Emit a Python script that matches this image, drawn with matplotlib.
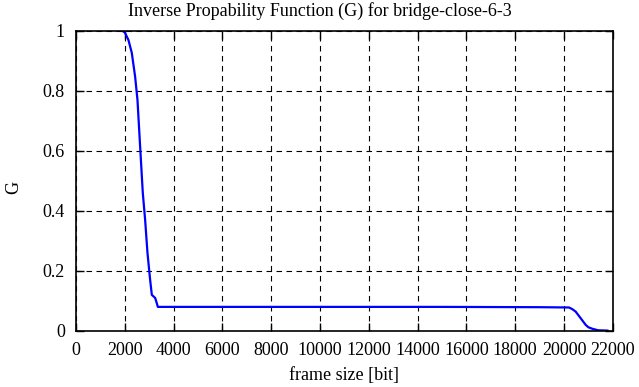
import matplotlib
matplotlib.use('Agg')
import matplotlib.pyplot as plt

plt.rcParams['font.family'] = ['Liberation Serif', 'DejaVu Serif']

# frame size [bit] and G values
frame_size = [1900, 2000, 2147, 2285, 2421, 2518, 2627, 2736, 2832, 2928, 3037, 3106,
              3242, 3300, 3353, 5000, 10000, 15000, 19000, 20207, 20350, 20480,
              20685, 20890, 21000, 21165, 21400, 21780]
G = [1.0, 0.995, 0.97, 0.927, 0.848, 0.77, 0.614, 0.46, 0.37, 0.26, 0.17, 0.12,
     0.11, 0.095, 0.08, 0.08, 0.08, 0.08, 0.079, 0.078, 0.072, 0.064,
     0.042, 0.02, 0.012, 0.007, 0.002, 0.001]

xticks = list(range(0, 22001, 2000))
yticks = [0, 0.2, 0.4, 0.6, 0.8, 1]
ytick_labels = ['0', '0.2', '0.4', '0.6', '0.8', '1']

fig = plt.figure(figsize=(6.39, 3.87), dpi=100)
ax = fig.add_axes([0.119, 0.145, 0.840, 0.775])

ax.plot(frame_size, G, color='#0000ff', linewidth=1.6)

ax.set_xlim(0, 22000)
ax.set_ylim(0, 1)
ax.set_xticks(xticks)
ax.set_xticklabels([str(t) for t in xticks])
ax.set_yticks(yticks)
ax.set_yticklabels(ytick_labels)
ax.grid(True, color='black', linestyle=(0, (5, 4)), linewidth=0.8)
ax.tick_params(direction='in', top=True, right=True, length=6, width=1,
               labelsize=13, pad=8)
for s in ax.spines.values():
    s.set_linewidth(1.2)

# title is centred on the whole figure, as gnuplot does
fig.text(0.5, 0.972, 'Inverse Propability Function (G) for bridge-close-6-3',
         fontsize=13, ha='center', va='center')
ax.set_xlabel('frame size [bit]', fontsize=13, labelpad=6)
fig.text(14 / 639, 1 - 187 / 387, 'G', fontsize=13, rotation=90,
         ha='center', va='center')

fig.savefig('out.png', dpi=100)
